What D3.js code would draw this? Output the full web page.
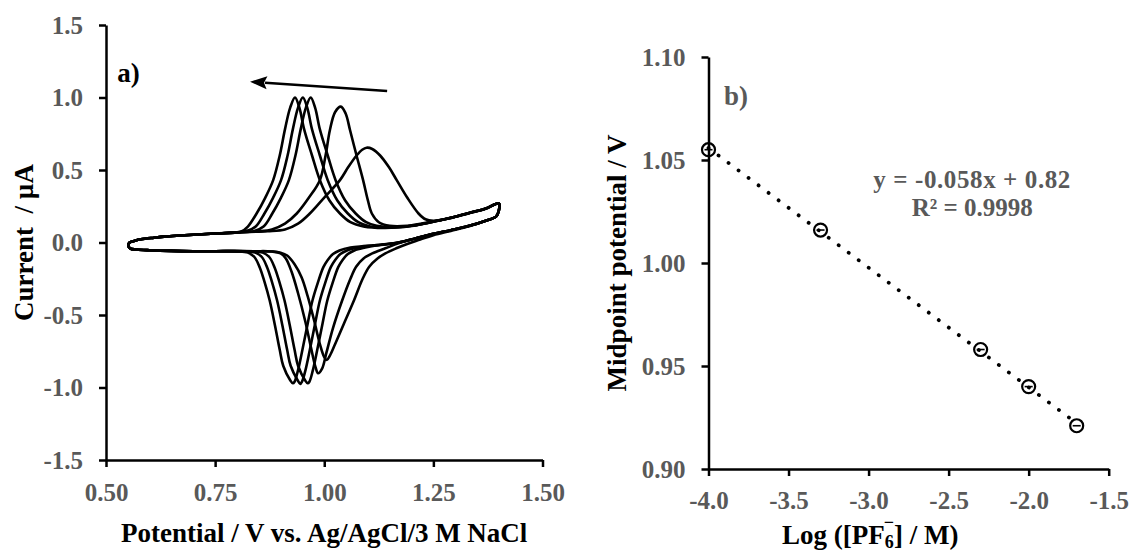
<!DOCTYPE html>
<html>
<head>
<meta charset="utf-8">
<script src="https://cdn.jsdelivr.net/npm/d3@7"></script>
<style>
  body { margin: 0; background: #fff; }
  svg { display: block; }
  text { font-family: "Liberation Serif", "Times New Roman", serif; font-weight: bold; }
</style>
</head>
<body>
<svg width="1131" height="554"></svg>
<script>
// ---- panel a) cyclic voltammograms: [potential V, current uA] ----
let potentialTicks = [0.50, 0.75, 1.00, 1.25, 1.50];
let currentTicks = [-1.5, -1.0, -0.5, 0.0, 0.5, 1.0, 1.5];

let cv1Forward = [[0.551,-0.02],[0.554,0.0],[0.566,0.012],[0.58,0.022],[0.61,0.033],[0.64,0.042],[0.68,0.05],[0.72,0.057],[0.76,0.063],[0.80,0.07],
  [0.81,0.076],[0.825,0.11],[0.845,0.20],[0.865,0.31],[0.883,0.43],[0.898,0.60],[0.910,0.78],[0.922,0.93],[0.933,1.00],[0.943,0.93],[0.954,0.78],
  [0.972,0.60],[0.990,0.43],[1.012,0.29],[1.036,0.20],[1.06,0.14],[1.09,0.11],[1.14,0.10],[1.20,0.115],[1.26,0.15],[1.30,0.178],[1.34,0.21],[1.37,0.235],[1.40,0.27]];
let cv1Reverse = [[1.400,0.22],[1.394,0.18],[1.37,0.15],[1.33,0.113],[1.29,0.085],[1.25,0.06],[1.21,0.03],[1.17,0.0],[1.13,-0.015],[1.09,-0.025],
  [1.06,-0.035],[1.035,-0.055],[1.02,-0.08],[1.008,-0.12],[0.998,-0.17],[0.985,-0.28],[0.973,-0.40],[0.962,-0.56],[0.950,-0.74],[0.940,-0.88],[0.932,-0.96],
  [0.928,-0.971],[0.922,-0.95],[0.906,-0.85],[0.898,-0.74],[0.887,-0.57],[0.875,-0.40],[0.863,-0.27],[0.852,-0.17],[0.84,-0.10],[0.825,-0.07],[0.80,-0.061],
  [0.75,-0.06],[0.70,-0.06],[0.65,-0.058],[0.60,-0.053],[0.57,-0.048],[0.556,-0.042]];

let cv2Forward = [[0.551,-0.02],[0.554,0.0],[0.566,0.012],[0.58,0.022],[0.61,0.033],[0.64,0.042],[0.68,0.05],[0.72,0.057],[0.76,0.063],[0.80,0.07],
  [0.825,0.082],[0.843,0.11],[0.863,0.20],[0.883,0.31],[0.901,0.43],[0.916,0.60],[0.928,0.78],[0.940,0.93],[0.951,1.00],[0.961,0.93],[0.972,0.78],
  [0.990,0.60],[1.008,0.43],[1.030,0.29],[1.054,0.20],[1.078,0.14],[1.105,0.11],[1.15,0.102],[1.20,0.115],[1.26,0.15],[1.30,0.178],[1.34,0.21],[1.37,0.235],[1.40,0.27]];
let cv2Reverse = [[1.400,0.22],[1.394,0.18],[1.37,0.15],[1.33,0.113],[1.29,0.085],[1.25,0.06],[1.21,0.03],[1.17,0.0],[1.13,-0.015],[1.10,-0.024],
  [1.077,-0.035],[1.052,-0.055],[1.037,-0.08],[1.025,-0.12],[1.015,-0.17],[1.002,-0.28],[0.990,-0.40],[0.979,-0.56],[0.967,-0.74],[0.957,-0.88],[0.949,-0.96],
  [0.945,-0.975],[0.939,-0.95],[0.923,-0.85],[0.915,-0.74],[0.904,-0.57],[0.892,-0.40],[0.880,-0.27],[0.869,-0.17],[0.857,-0.10],[0.842,-0.07],[0.815,-0.061],
  [0.75,-0.06],[0.70,-0.06],[0.65,-0.058],[0.60,-0.053],[0.57,-0.048],[0.556,-0.042]];

let cv3Forward = [[0.551,-0.02],[0.554,0.0],[0.566,0.012],[0.58,0.022],[0.61,0.033],[0.64,0.042],[0.68,0.05],[0.72,0.057],[0.76,0.063],[0.80,0.07],
  [0.84,0.08],[0.861,0.11],[0.881,0.20],[0.901,0.31],[0.919,0.43],[0.934,0.60],[0.946,0.78],[0.958,0.93],[0.969,1.00],[0.979,0.93],[0.990,0.78],
  [1.008,0.60],[1.026,0.43],[1.048,0.29],[1.072,0.20],[1.096,0.14],[1.12,0.115],[1.16,0.105],[1.21,0.118],[1.26,0.15],[1.30,0.178],[1.34,0.21],[1.37,0.235],[1.40,0.27]];
let cv3Reverse = [[1.400,0.22],[1.394,0.18],[1.37,0.15],[1.33,0.113],[1.29,0.085],[1.25,0.06],[1.21,0.03],[1.17,0.0],[1.14,-0.013],[1.115,-0.022],
  [1.094,-0.035],[1.069,-0.055],[1.054,-0.08],[1.042,-0.12],[1.032,-0.17],[1.019,-0.28],[1.007,-0.40],[0.996,-0.56],[0.984,-0.74],[0.974,-0.88],[0.966,-0.96],
  [0.962,-0.971],[0.956,-0.95],[0.940,-0.85],[0.932,-0.74],[0.921,-0.57],[0.909,-0.40],[0.897,-0.27],[0.886,-0.17],[0.874,-0.10],[0.859,-0.07],[0.83,-0.061],
  [0.75,-0.06],[0.70,-0.06],[0.65,-0.058],[0.60,-0.053],[0.57,-0.048],[0.556,-0.042]];

let cv4Forward = [[0.551,-0.02],[0.554,0.0],[0.566,0.012],[0.58,0.022],[0.61,0.033],[0.64,0.042],[0.68,0.05],[0.72,0.057],[0.76,0.063],[0.80,0.07],
  [0.85,0.077],[0.88,0.09],[0.91,0.13],[0.937,0.20],[0.965,0.31],[0.99,0.43],[1.003,0.60],[1.013,0.776],[1.025,0.90],[1.038,0.937],[1.049,0.89],
  [1.059,0.776],[1.074,0.60],[1.089,0.43],[1.100,0.29],[1.109,0.20],[1.125,0.14],[1.15,0.115],[1.19,0.115],[1.24,0.14],[1.30,0.178],[1.34,0.21],[1.37,0.235],[1.40,0.27]];
let cv4Reverse = [[1.400,0.22],[1.394,0.18],[1.37,0.15],[1.33,0.113],[1.29,0.085],[1.25,0.06],[1.21,0.028],[1.17,-0.005],[1.14,-0.04],[1.11,-0.075],
  [1.09,-0.11],[1.073,-0.167],[1.06,-0.25],[1.041,-0.40],[1.02,-0.59],[1.005,-0.76],[0.995,-0.87],[0.986,-0.902],[0.98,-0.86],[0.97,-0.73],[0.957,-0.55],
  [0.94,-0.35],[0.925,-0.20],[0.912,-0.11],[0.90,-0.075],[0.88,-0.062],[0.84,-0.06],[0.75,-0.06],[0.70,-0.06],[0.65,-0.058],[0.60,-0.053],[0.57,-0.048],[0.556,-0.042]];

let cv5Forward = [[0.551,-0.02],[0.554,0.0],[0.566,0.012],[0.58,0.022],[0.61,0.033],[0.64,0.042],[0.68,0.05],[0.72,0.057],[0.76,0.063],[0.80,0.07],
  [0.87,0.078],[0.91,0.09],[0.94,0.13],[0.967,0.20],[1.00,0.31],[1.036,0.43],[1.055,0.52],[1.074,0.60],[1.087,0.64],[1.097,0.654],[1.11,0.645],
  [1.128,0.60],[1.148,0.52],[1.166,0.43],[1.19,0.31],[1.216,0.20],[1.232,0.16],[1.25,0.15],[1.29,0.168],[1.33,0.2],[1.37,0.232],[1.40,0.27]];
let cv5Reverse = [[1.400,0.22],[1.394,0.18],[1.37,0.15],[1.33,0.11],[1.29,0.08],[1.25,0.05],[1.22,0.02],[1.19,-0.01],[1.165,-0.04],[1.14,-0.075],
  [1.122,-0.11],[1.103,-0.167],[1.088,-0.25],[1.068,-0.40],[1.045,-0.56],[1.025,-0.70],[1.013,-0.78],[1.006,-0.81],[1.0,-0.79],[0.99,-0.70],[0.977,-0.54],
  [0.962,-0.37],[0.948,-0.24],[0.932,-0.15],[0.915,-0.09],[0.90,-0.07],[0.88,-0.062],[0.84,-0.06],[0.75,-0.06],[0.70,-0.06],[0.65,-0.058],[0.60,-0.053],[0.57,-0.048],[0.556,-0.042]];

let cvLoops = [
  cv1Forward.concat(cv1Reverse),
  cv2Forward.concat(cv2Reverse),
  cv3Forward.concat(cv3Reverse),
  cv4Forward.concat(cv4Reverse),
  cv5Forward.concat(cv5Reverse)
];
// scan direction arrow, [potential, current]
let arrowFrom = [1.144, 1.045], arrowTo = [0.830, 1.109];

// ---- panel b) midpoint potential vs log concentration ----
let logTicks = [-4.0, -3.5, -3.0, -2.5, -2.0, -1.5];
let midTicks = [0.90, 0.95, 1.00, 1.05, 1.10];
let logConc = [-4.0, -3.3, -2.3, -2.0, -1.7];
let midpoint = [1.055, 1.016, 0.958, 0.940, 0.921];

let svg = d3.select("svg");
svg.append("rect").attr("width", 1131).attr("height", 554).attr("fill", "#fff");

let xA = d3.scaleLinear().domain([0.5, 1.5]).range([106, 542.5]),
    yA = d3.scaleLinear().domain([-1.5, 1.5]).range([460, 25]);
let xB = d3.scaleLinear().domain([-4, -1.5]).range([708.5, 1108.7]),
    yB = d3.scaleLinear().domain([0.9, 1.1]).range([469, 57]);

function styleAxis(g) {
    g.select(".domain").attr("stroke", "#000").attr("stroke-width", 2.5);
    g.selectAll(".tick line").attr("stroke", "#000").attr("stroke-width", 2.5);
    g.selectAll(".tick text")
        .attr("fill", "#595959")
        .style("font-size", "25px")
        .style("font-family", "'Liberation Serif', 'Times New Roman', serif")
        .style("font-weight", "bold");
}

// axes a)
svg.append("g")
    .attr("transform", "translate(0," + yA(-1.5) + ")")
    .call(d3.axisBottom(xA).tickValues(potentialTicks).tickSize(7).tickSizeOuter(0).tickPadding(16)
        .tickFormat(d => d.toFixed(2)))
    .call(styleAxis);
svg.append("g")
    .attr("transform", "translate(" + xA(0.5) + ",0)")
    .call(d3.axisLeft(yA).tickValues(currentTicks).tickSize(7).tickSizeOuter(0).tickPadding(16)
        .tickFormat(d => d.toFixed(1)))
    .call(styleAxis);

// CV curves
let cvLine = d3.line()
    .x(d => xA(d[0]))
    .y(d => yA(d[1]))
    .curve(d3.curveCatmullRomClosed.alpha(0.5));
svg.append("g").selectAll("path")
    .data(cvLoops)
    .join("path")
    .attr("d", cvLine)
    .attr("fill", "none")
    .attr("stroke", "#000")
    .attr("stroke-width", 2.6)
    .attr("stroke-linejoin", "round");

// arrow: shaft plus filled head
let ax0 = xA(arrowFrom[0]), ay0 = yA(arrowFrom[1]);
let ax1 = xA(arrowTo[0]), ay1 = yA(arrowTo[1]);
let len = Math.hypot(ax1 - ax0, ay1 - ay0);
let ux = (ax1 - ax0) / len, uy = (ay1 - ay0) / len;
let headLen = 17, headHalf = 6.5;
let bx = ax1 - ux * headLen, by = ay1 - uy * headLen;
svg.append("line")
    .attr("x1", ax0).attr("y1", ay0)
    .attr("x2", bx + ux * 2).attr("y2", by + uy * 2)
    .attr("stroke", "#000")
    .attr("stroke-width", 2.5);
svg.append("path")
    .attr("d", "M" + ax1 + "," + ay1 +
        "L" + (bx - uy * headHalf) + "," + (by + ux * headHalf) +
        "L" + (bx + ux * 3) + "," + (by + uy * 3) +
        "L" + (bx + uy * headHalf) + "," + (by - ux * headHalf) + "Z")
    .attr("fill", "#000");

svg.append("text")
    .attr("x", xA(0.526)).attr("y", yA(1.11))
    .style("font-size", "27px")
    .attr("fill", "#000")
    .text("a)");

svg.append("text")
    .attr("x", xA(1.0)).attr("y", 542)
    .attr("text-anchor", "middle")
    .style("font-size", "27px")
    .text("Potential / V vs. Ag/AgCl/3 M NaCl");
svg.append("text")
    .attr("transform", "translate(33," + yA(0) + ") rotate(-90)")
    .attr("text-anchor", "middle")
    .style("font-size", "27px")
    .style("white-space", "pre")
    .text("Current  / µA");

// axes b)
svg.append("g")
    .attr("transform", "translate(0," + yB(0.9) + ")")
    .call(d3.axisBottom(xB).tickValues(logTicks).tickSize(7).tickSizeOuter(0).tickPadding(15)
        .tickFormat(d => d.toFixed(1)))
    .call(styleAxis);
svg.append("g")
    .attr("transform", "translate(" + xB(-4) + ",0)")
    .call(d3.axisLeft(yB).tickValues(midTicks).tickSize(7).tickSizeOuter(0).tickPadding(16)
        .tickFormat(d => d.toFixed(2)))
    .call(styleAxis);

// linear trendline from least squares on the points
let mx = d3.mean(logConc), my = d3.mean(midpoint);
let sxy = d3.sum(logConc, (x, i) => (x - mx) * (midpoint[i] - my));
let sxx = d3.sum(logConc, x => (x - mx) * (x - mx));
let slope = sxy / sxx, intercept = my - slope * mx;
let xr = d3.extent(logConc);
svg.append("line")
    .attr("x1", xB(xr[0])).attr("y1", yB(slope * xr[0] + intercept))
    .attr("x2", xB(xr[1])).attr("y2", yB(slope * xr[1] + intercept))
    .attr("stroke", "#000")
    .attr("stroke-width", 3.8)
    .attr("stroke-linecap", "round")
    .attr("stroke-dasharray", "0.1 12.4");

let pts = svg.append("g").selectAll("g")
    .data(logConc.map((x, i) => [x, midpoint[i]]))
    .join("g")
    .attr("transform", d => "translate(" + xB(d[0]) + "," + yB(d[1]) + ")");
pts.append("circle")
    .attr("r", 6.5)
    .attr("fill", "none")
    .attr("stroke", "#000")
    .attr("stroke-width", 2.2);
pts.append("line")
    .attr("x1", -4).attr("x2", 4)
    .attr("stroke", "#000")
    .attr("stroke-width", 1.6);

svg.append("text")
    .attr("x", xB(-3.903)).attr("y", yB(1.0765))
    .attr("fill", "#595959")
    .style("font-size", "27px")
    .text("b)");

let eq = svg.append("text")
    .attr("text-anchor", "middle")
    .attr("fill", "#595959")
    .style("font-size", "25px");
eq.append("tspan").attr("x", xB(-2.353)).attr("y", yB(1.0365))
    .style("letter-spacing", "0.6px")
    .text("y = -0.058x + 0.82");
eq.append("tspan").attr("x", xB(-2.353)).attr("y", yB(1.0229)).text("R² = 0.9998");

let xt = svg.append("text")
    .attr("x", xB(-2.99)).attr("y", 544)
    .attr("text-anchor", "middle")
    .style("font-size", "27px");
xt.append("tspan").text("Log ([PF");
xt.append("tspan").attr("dy", 4).style("font-size", "18px").text("6");
xt.append("tspan").attr("dx", -10).attr("dy", -20).style("font-size", "18px").text("−");
xt.append("tspan").attr("dy", 16).text("] / M)");

svg.append("text")
    .attr("transform", "translate(626," + yB(1.0) + ") rotate(-90)")
    .attr("text-anchor", "middle")
    .style("font-size", "27px")
    .text("Midpoint potential / V");
</script>
</body>
</html>
